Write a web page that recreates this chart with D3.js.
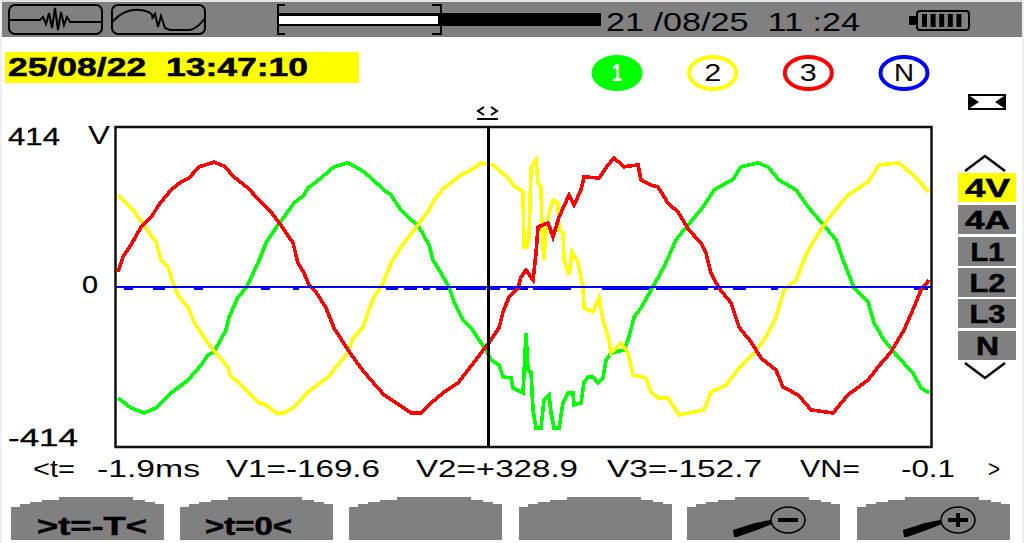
<!DOCTYPE html>
<html><head><meta charset="utf-8">
<script src="https://cdn.jsdelivr.net/npm/d3@7"></script>
<style>
html,body{margin:0;padding:0;background:#fff;overflow:hidden}
text{font-family:"Liberation Sans",sans-serif;fill:#000}
.b{font-weight:bold;stroke:#000;stroke-width:.5}
</style></head><body><svg id="c" width="1024" height="543"></svg>
<script>
// ---- data (time in ms, voltage in V) ----
const tL1=[-20.4,-19.75,-19.1,-18.5,-17.75,-16.9,-16.25,-15.9,-15.6,-15,-14.85,-14.4,-14,-13.4,-13,-12.5,-12.1,-11.6,-11.1,-10.9,-10.25,-9.6,-8.9,-8.25,-7.75,-7.1,-6.75,-6.25,-5.75,-5.4,-4.85,-4.65,-4.25,-3.85,-3.6,-3.15,-2.75,-2.35,-2,-1.75,-1.35,-1.15,-.75,-.65,-.15,0,.1,.25,.35,.5,.75,.9,1.15,1.25,1.4,1.65,1.85,2.1,2.35,2.4,2.75,2.9,3.1,3.35,3.6,3.85,4,4.25,4.9,5.15,5.4,5.75,6.25,6.9,7.5,8.1,8.85,9.4,10.35,10.75,11.6,12.1,12.65,13.5,14.15,14.75,15.5,15.85,16.25,16.4,17.1,17.4,17.9,18.6,19.35,19.75,20.15];
const vL1=[-287,-313,-326,-313,-274,-241,-202,-176,-168,-111,-78,-26,-3,62,114,153,181,217,238,256,282,311,321,303,282,251,238,199,173,160,109,70,36,0,-39,-85,-106,-137,-163,-189,-202,-233,-235,-261,-274,-119,-215,-220,-318,-365,-365,-292,-279,-326,-365,-365,-300,-274,-274,-305,-300,-246,-233,-233,-248,-235,-189,-171,-163,-129,-78,-54,-8,52,122,160,207,251,279,311,321,311,277,251,204,168,122,70,18,-3,-39,-93,-137,-181,-223,-261,-274];
const tL2=[-20.4,-19.65,-19.1,-18.5,-18.25,-17.9,-17.65,-17.35,-16.9,-16.65,-16.35,-15.9,-15.5,-14.9,-14.8,-14.4,-13.9,-13.4,-13,-12.5,-12.1,-11.6,-10.9,-9.9,-9,-8.6,-8.15,-7.9,-7.6,-7.15,-6.75,-6.25,-5.6,-4.85,-4.6,-4.1,-3.25,-2.75,-2.25,-1.65,-.9,-.65,-.15,-.1,.05,.15,.25,.5,.6,.75,.8,.9,1,1.15,1.35,1.6,1.65,1.85,1.9,2.15,2.3,2.6,2.85,2.9,3.35,3.65,3.85,4.15,4.25,4.75,5.1,5.35,6,6.25,6.6,7.1,7.65,8.9,9.25,10,10.65,11.4,12,12.5,12.9,13.5,14,14.5,15.25,16.1,17.1,17.65,18.65,19.35,20.15];
const vL2=[238,199,160,116,70,52,10,-26,-52,-85,-111,-145,-171,-207,-228,-246,-272,-298,-305,-326,-326,-311,-272,-233,-176,-129,-104,-65,-26,10,62,104,147,199,225,256,290,303,321,316,282,264,246,104,104,129,308,329,269,259,147,70,147,191,225,217,147,140,70,31,91,62,0,-54,-65,-28,-85,-137,-171,-145,-171,-228,-235,-272,-287,-287,-331,-318,-272,-254,-210,-171,-129,-78,-8,18,83,129,186,238,272,316,321,290,246];
const tL3=[-20.4,-20.15,-19.75,-19.25,-18.75,-18.25,-17.75,-17.25,-16.85,-16.35,-15.6,-15.1,-14.6,-13.9,-13.35,-12.75,-12.25,-11.65,-11.4,-11.1,-10.85,-10.5,-10,-9.6,-8.9,-8.25,-7.75,-7.1,-6.5,-5.75,-5.25,-4.75,-4.1,-3.4,-2.9,-2.25,-1.75,-1.35,-1.15,-.85,-.4,-.25,0,.35,.5,.6,1.1,1.35,1.65,2.15,2.4,2.75,2.9,3.65,4.1,4.4,4.9,5.6,5.75,6.25,6.6,7.1,7.6,8.15,8.75,9,9.25,9.65,10.25,10.65,11.25,11.75,12.5,12.85,13.6,14.25,15.35,16.1,17.1,17.6,18.25,18.9,19.4,19.75,20.15];
const vL3=[39,78,109,155,181,220,251,272,282,311,323,313,285,256,225,194,160,114,62,36,5,-13,-54,-106,-163,-210,-241,-279,-300,-326,-326,-300,-272,-248,-215,-171,-137,-106,-65,-26,-3,26,44,18,88,155,166,129,181,238,212,251,285,282,316,334,311,316,277,264,259,217,194,147,114,88,36,-3,-41,-104,-142,-184,-215,-259,-279,-318,-326,-279,-241,-207,-168,-111,-52,-8,18];
// neutral trace: near zero, visible below the 0 line only in these time spans
const neutralStart=[-20.1,-18.65,-16.6,-13.25,-11.65,-7,-6.1,-5.15,-4.5,-3.5,-1.8,-.95,.35,3.8,6.5,9.4,10.35,12.25,19.4];
const neutralEnd=[-19.65,-18.05,-16.15,-12.8,-11.35,-6.4,-5.45,-4.8,-3.85,-2,-1.3,.1,2.25,6.25,9.1,9.75,11,12.6,20.1];
const neutralLevel=-5;
const yTicks=[414,0,-414];
const cursorT=-1.9;
const readouts=["<t=","-1.9ms","V1=-169.6","V2=+328.9","V3=-152.7","VN=","-0.1",">"];
const channels=["1","2","3","N"];
const sideButtons=["4V","4A","L1","L2","L3","N"];
const softKeys=[">t=-T<",">t=0<","","","",""];
const gray="#808080";
const svg=d3.select("#c");

// ---- frame / header ----
svg.append("rect").attr("x",0).attr("y",0).attr("width",1024).attr("height",2).attr("fill","#e4e4e4");
svg.append("rect").attr("x",0).attr("y",0).attr("width",2).attr("height",543).attr("fill","#f0f0f0");
svg.append("rect").attr("x",1022).attr("y",0).attr("width",2).attr("height",543).attr("fill","#f0f0f0");
svg.append("rect").attr("x",2).attr("y",2).attr("width",1020).attr("height",35).attr("fill",gray);
const pth=(d,w=2,f="none",s="#000")=>svg.append("path").attr("d",d).attr("fill",f).attr("stroke",s).attr("stroke-width",w);
svg.append("rect").attr("x",9).attr("y",5).attr("width",93).attr("height",29).attr("rx",6).attr("fill","none").attr("stroke","#000").attr("stroke-width",2);
svg.append("rect").attr("x",112).attr("y",5).attr("width",93).attr("height",29).attr("rx",6).attr("fill","none").attr("stroke","#000").attr("stroke-width",2);
pth("M9 20H40L43 17L46 24L49 13L52 28L55 8L58 30L61 12L64 25L67 17L70 22H102");
pth("M112 22Q125 8 140 10T152 19L155 14L158 27L161 16L165 28L170 30H190Q198 28 205 18");
pth("M285 5H278V34H285M432 5H441V34H432",2);
svg.append("rect").attr("x",278).attr("y",13).attr("width",164).attr("height",13).attr("fill","#000");
svg.append("rect").attr("x",279).attr("y",16).attr("width",159).attr("height",8).attr("fill","#fff");
svg.append("rect").attr("x",442).attr("y",13).attr("width",159).attr("height",13).attr("fill","#000");
svg.append("text").attr("x",606).attr("y",31).attr("font-size",25).attr("textLength",254).attr("lengthAdjust","spacingAndGlyphs").style("white-space","pre").text("21 /08/25  11 :24");
svg.append("rect").attr("x",917).attr("y",11).attr("width",52).attr("height",19).attr("rx",3).attr("fill","none").attr("stroke","#000").attr("stroke-width",2);
svg.append("rect").attr("x",909).attr("y",16).attr("width",8).attr("height",9).attr("fill","#000");
svg.selectAll(".cell").data(d3.range(5)).join("rect").attr("x",d=>922+d*8.6).attr("y",14).attr("width",5).attr("height",13).attr("fill","#000");

svg.append("rect").attr("x",5).attr("y",52).attr("width",354).attr("height",31).attr("fill","#ff0");
svg.append("text").attr("class","b").attr("x",8).attr("y",76).attr("font-size",25).attr("textLength",300).attr("lengthAdjust","spacingAndGlyphs").style("white-space","pre").text("25/08/22  13:47:10");

// ---- channel legend ----
const legendX=d3.scalePoint().domain(channels).range([617,904]);
const legendC={"1":"#00ff00","2":"#ffff00","3":"#ff0000","N":"#0000ff"};
channels.forEach(c=>{
  svg.append("ellipse").attr("cx",legendX(c)).attr("cy",73).attr("rx",c==="1"?25.5:23.5).attr("ry",c==="1"?18:16)
    .attr("fill",c==="1"?legendC[c]:"#fff").attr("stroke",c==="1"?"none":legendC[c]).attr("stroke-width",4);
  svg.append("text").attr("x",legendX(c)).attr("y",81).attr("text-anchor","middle").attr("font-size",24)
    .attr("font-weight",c==="1"?"bold":null).attr("textLength",c==="N"?20:c==="1"?10:17).attr("lengthAdjust","spacingAndGlyphs")
    .style("fill",c==="1"?"#fff":"#000").text(c);
});
svg.append("rect").attr("x",968).attr("y",94).attr("width",38).attr("height",16).attr("fill","#000");
svg.append("path").attr("d","M970 96H1004L995 102L1004 108H970L979 102Z").attr("fill","#fff");

// ---- scales ----
const plot={l:115.5,r:931.5,t:127,b:447};
const x=d3.scaleLinear().domain([-20.525,20.275]).range([plot.l,plot.r]);
const y=d3.scaleLinear().domain([-414,414]).range([447,127]);
const line=d3.line().x(d=>x(d[0])).y(d=>y(d[1]));
const pts=(t,v)=>t.map((d,i)=>[d,v[i]]);

// y labels (through axis generator with its line removed)
const axisG=svg.append("g").call(d3.axisLeft(y).tickValues(yTicks).tickSize(0).tickFormat(d3.format("d")));
axisG.select(".domain").remove();
axisG.selectAll("text").attr("font-size",24).attr("font-family",null).style("font-family",'"Liberation Sans",sans-serif')
  .style("stroke","#000").style("stroke-width",.3)
  .attr("text-anchor","start").attr("x",d=>d===0?82:8).attr("dy",null)
  .attr("y",d=>d===414?17:d===0?5:-2)
  .attr("textLength",d=>d===414?52:d===0?16:70).attr("lengthAdjust","spacingAndGlyphs").text(d=>String(d));
svg.append("text").attr("x",88).attr("y",144).attr("font-size",25).attr("textLength",22).attr("lengthAdjust","spacingAndGlyphs").text("V");

const gPlot=svg.append("g");
// 0 reference line + neutral trace
const n=[];
neutralStart.forEach((s,i)=>{n.push([s,neutralLevel],[neutralEnd[i],neutralLevel],[neutralEnd[i],null]);});
gPlot.append("path").attr("d",d3.line().defined(d=>d[1]!==null).x(d=>x(d[0])).y(d=>y(d[1]))(n))
  .attr("fill","none").attr("stroke","#0000ff").attr("stroke-width",3).attr("shape-rendering","crispEdges");
const series=[[tL1,vL1,"#00ff00"],[tL2,vL2,"#ffff00"],[tL3,vL3,"#ff0000"]];
series.forEach(([t,v,col])=>{
  gPlot.append("path").attr("d",line(pts(t,v)))
    .attr("fill","none").attr("stroke",col).attr("stroke-width",3.6).attr("stroke-linejoin","miter").attr("shape-rendering","crispEdges");
});
gPlot.append("line").attr("x1",plot.l).attr("x2",plot.r).attr("y1",y(0)).attr("y2",y(0)).attr("stroke","#0000ff").attr("stroke-width",2);
// frame and cursor
svg.append("rect").attr("x",plot.l).attr("y",plot.t).attr("width",plot.r-plot.l).attr("height",plot.b-plot.t).attr("fill","none").attr("stroke","#111").attr("stroke-width",2.5);
svg.append("line").attr("x1",x(cursorT)+.5).attr("x2",x(cursorT)+.5).attr("y1",plot.t).attr("y2",plot.b).attr("stroke","#000").attr("stroke-width",3);
pth("M484 107L478 111L484 115M491 107L497 111L491 115",2);
pth("M477 119H498",2);

// ---- readout ----
const roX=[33,97,226,416,607,800,901,988], roW=[42,103,154,162,155,60,54,12];
readouts.forEach((s,i)=>svg.append("text").attr("x",roX[i]).attr("y",477).attr("font-size",24).attr("textLength",roW[i]).attr("lengthAdjust","spacingAndGlyphs").text(s));

// ---- side buttons ----
const sideY=[173,205,237,268,299,331], sideW=[45,45,34,36,36,23];
pth("M965 171L985 156L1005 171",2.5);
pth("M965 363L985 378L1005 363",2.5);
sideButtons.forEach((s,i)=>{
  svg.append("rect").attr("x",958).attr("y",sideY[i]).attr("width",58).attr("height",29).attr("fill",i?gray:"#ff0");
  svg.append("text").attr("class","b").attr("x",987.5-sideW[i]/2).attr("y",sideY[i]+24).attr("font-size",25)
    .attr("textLength",sideW[i]).attr("lengthAdjust","spacingAndGlyphs").text(s);
});

// ---- soft keys ----
const keyX=[11,180,349,519,687,857], keyTextX=[37,205], keyTextW=[110,87];
const dome=[[0,507],[9,504],[19,502],[31,500],[48,497],[105,497],[122,500],[134,502],[144,504],[153,507]];
keyX.forEach((k,i)=>{
  const p=d3.line().curve(d3.curveStepAfter)(dome.map(([a,b])=>[k+a,b]));
  svg.append("path").attr("d",`M${k} 540L${p.slice(1)}V540Z`).attr("fill",gray).attr("shape-rendering","crispEdges");
  if(softKeys[i]) svg.append("text").attr("class","b").attr("x",keyTextX[i]).attr("y",535).attr("font-size",25)
    .attr("textLength",keyTextW[i]).attr("lengthAdjust","spacingAndGlyphs").text(softKeys[i]);
});
[[687,"-"],[857,"+"]].forEach(([k,s])=>{
  svg.append("ellipse").attr("cx",k+101).attr("cy",520).attr("rx",17).attr("ry",13).attr("fill","none").attr("stroke","#000").attr("stroke-width",1.6);
  svg.append("path").attr("d",`M${k+46} 530L${k+68} 523L${k+83} 520L${k+85} 524L${k+70} 530L${k+50} 537L${k+47} 537Z`).attr("fill","#000");
  svg.append("path").attr("d",s==="-"?`M${k+91} 520H${k+111}`:`M${k+91} 520H${k+111}M${k+101} 513V527`).attr("stroke","#000").attr("stroke-width",4);
});
</script></body></html>
